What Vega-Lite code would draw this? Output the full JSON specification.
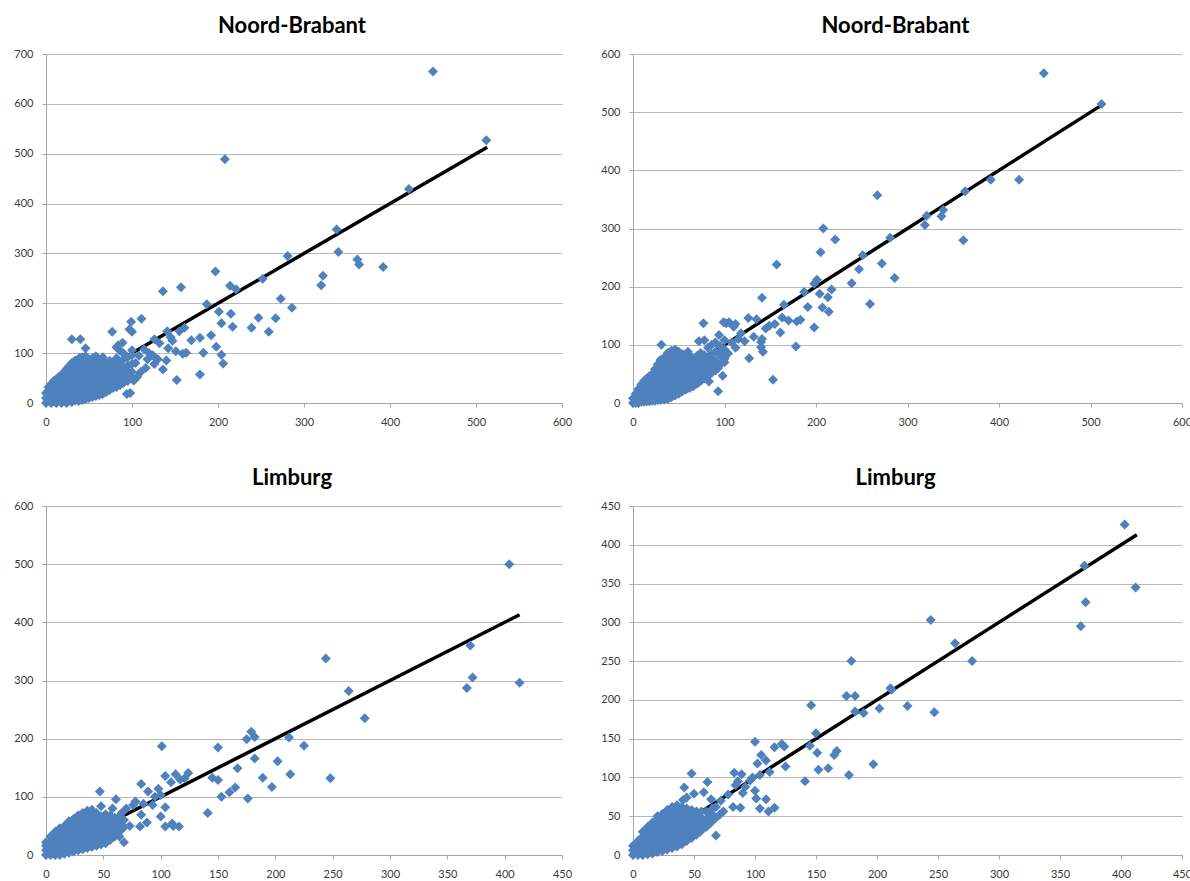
{
"$schema": "https://vega.github.io/schema/vega-lite/v6.json",
"background": "white",
"padding": {"left": 13, "top": 15, "right": 0, "bottom": 0},
"bounds": "flush",
"columns": 2,
"spacing": {"row": 103, "column": 71},
"datasets": {
"line_nb": [{"x":0,"y":0},{"x":513,"y":513}],
"line_li": [{"x":0,"y":0},{"x":413,"y":413}],
"tl": [
{"x":450,"y":665},{"x":512,"y":527},{"x":208,"y":489},{"x":422,"y":429},{"x":338,"y":348},{"x":340,"y":303},{"x":362,"y":288},{"x":364,"y":278},{"x":392,"y":273},{"x":281,"y":295},{"x":252,"y":249},{"x":322,"y":255},{"x":320,"y":236},{"x":273,"y":209},{"x":286,"y":191},{"x":197,"y":264},{"x":214,"y":235},{"x":221,"y":228},{"x":157,"y":232},{"x":136,"y":224},{"x":187,"y":198},{"x":201,"y":183},{"x":215,"y":179},{"x":204,"y":160},{"x":217,"y":153},{"x":247,"y":171},{"x":267,"y":170},{"x":239,"y":151},{"x":259,"y":143},{"x":192,"y":136},{"x":179,"y":131},{"x":169,"y":126},{"x":198,"y":113},{"x":204,"y":97},{"x":206,"y":79},{"x":183,"y":101},{"x":163,"y":101},{"x":159,"y":99},{"x":152,"y":46},{"x":179,"y":57},{"x":151,"y":104},{"x":140,"y":85},{"x":136,"y":67},{"x":161,"y":151},{"x":155,"y":144},{"x":141,"y":144},{"x":145,"y":132},{"x":111,"y":169},{"x":99,"y":163},{"x":97,"y":148},{"x":100,"y":143},{"x":77,"y":143},{"x":30,"y":128},{"x":40,"y":128},{"x":46,"y":110},{"x":39,"y":91},{"x":89,"y":121},{"x":84,"y":116},{"x":126,"y":128},{"x":102,"y":45},{"x":94,"y":18},{"x":98,"y":20},{"x":114,"y":108},{"x":130,"y":88},{"x":126,"y":78},{"x":120,"y":100},{"x":132,"y":120},{"x":147,"y":125},{"x":142,"y":110},{"x":108,"y":95},{"x":104,"y":80},{"x":116,"y":70},{"x":90,"y":60},{"x":95,"y":75},{"x":82,"y":112},{"x":86,"y":105},{"x":110,"y":62},{"x":106,"y":52},{"x":118,"y":88},{"x":124,"y":96},
{"x":0,"y":0},{"x":0,"y":10},{"x":0,"y":20},
{"x":3,"y":5},{"x":3,"y":15},{"x":3,"y":25},{"x":3,"y":32},
{"x":6,"y":0},{"x":6,"y":10},{"x":6,"y":20},{"x":6,"y":30},{"x":6,"y":38},
{"x":9,"y":5},{"x":9,"y":15},{"x":9,"y":25},{"x":9,"y":35},{"x":9,"y":44},
{"x":12,"y":0},{"x":12,"y":10},{"x":12,"y":20},{"x":12,"y":30},{"x":12,"y":40},{"x":12,"y":48},
{"x":15,"y":5},{"x":15,"y":15},{"x":15,"y":25},{"x":15,"y":35},{"x":15,"y":45},{"x":15,"y":52},
{"x":18,"y":0},{"x":18,"y":10},{"x":18,"y":20},{"x":18,"y":30},{"x":18,"y":40},{"x":18,"y":50},{"x":18,"y":56},
{"x":21,"y":5},{"x":21,"y":15},{"x":21,"y":25},{"x":21,"y":35},{"x":21,"y":45},{"x":21,"y":55},{"x":21,"y":62},
{"x":24,"y":0},{"x":24,"y":10},{"x":24,"y":20},{"x":24,"y":30},{"x":24,"y":40},{"x":24,"y":50},{"x":24,"y":60},{"x":24,"y":68},
{"x":27,"y":5},{"x":27,"y":15},{"x":27,"y":25},{"x":27,"y":35},{"x":27,"y":45},{"x":27,"y":55},{"x":27,"y":65},{"x":27,"y":74},
{"x":30,"y":2},{"x":30,"y":10},{"x":30,"y":20},{"x":30,"y":30},{"x":30,"y":40},{"x":30,"y":50},{"x":30,"y":60},{"x":30,"y":70},{"x":30,"y":80},
{"x":34,"y":5},{"x":34,"y":15},{"x":34,"y":25},{"x":34,"y":35},{"x":34,"y":45},{"x":34,"y":55},{"x":34,"y":65},{"x":34,"y":75},{"x":34,"y":85},
{"x":38,"y":4},{"x":38,"y":12},{"x":38,"y":22},{"x":38,"y":32},{"x":38,"y":42},{"x":38,"y":52},{"x":38,"y":62},{"x":38,"y":72},{"x":38,"y":82},{"x":38,"y":88},
{"x":42,"y":6},{"x":42,"y":14},{"x":42,"y":24},{"x":42,"y":34},{"x":42,"y":44},{"x":42,"y":54},{"x":42,"y":64},{"x":42,"y":74},{"x":42,"y":84},{"x":42,"y":92},
{"x":46,"y":8},{"x":46,"y":16},{"x":46,"y":26},{"x":46,"y":36},{"x":46,"y":46},{"x":46,"y":56},{"x":46,"y":66},{"x":46,"y":76},{"x":46,"y":86},{"x":46,"y":94},
{"x":50,"y":10},{"x":50,"y":18},{"x":50,"y":28},{"x":50,"y":38},{"x":50,"y":48},{"x":50,"y":58},{"x":50,"y":68},{"x":50,"y":78},{"x":50,"y":88},
{"x":54,"y":12},{"x":54,"y":20},{"x":54,"y":30},{"x":54,"y":40},{"x":54,"y":50},{"x":54,"y":60},{"x":54,"y":70},{"x":54,"y":80},{"x":54,"y":90},
{"x":58,"y":14},{"x":58,"y":22},{"x":58,"y":32},{"x":58,"y":42},{"x":58,"y":52},{"x":58,"y":62},{"x":58,"y":72},{"x":58,"y":82},{"x":58,"y":94},
{"x":62,"y":16},{"x":62,"y":24},{"x":62,"y":34},{"x":62,"y":44},{"x":62,"y":54},{"x":62,"y":64},{"x":62,"y":74},{"x":62,"y":84},
{"x":66,"y":18},{"x":66,"y":26},{"x":66,"y":36},{"x":66,"y":46},{"x":66,"y":56},{"x":66,"y":66},{"x":66,"y":76},{"x":66,"y":92},
{"x":70,"y":22},{"x":70,"y":30},{"x":70,"y":40},{"x":70,"y":50},{"x":70,"y":60},{"x":70,"y":70},{"x":70,"y":80},
{"x":74,"y":26},{"x":74,"y":34},{"x":74,"y":44},{"x":74,"y":54},{"x":74,"y":64},{"x":74,"y":74},{"x":74,"y":84},
{"x":78,"y":30},{"x":78,"y":38},{"x":78,"y":48},{"x":78,"y":58},{"x":78,"y":68},{"x":78,"y":78},
{"x":82,"y":32},{"x":82,"y":42},{"x":82,"y":52},{"x":82,"y":62},{"x":82,"y":72},{"x":82,"y":90},
{"x":86,"y":36},{"x":86,"y":46},{"x":86,"y":56},{"x":86,"y":66},{"x":86,"y":80},
{"x":90,"y":40},{"x":90,"y":50},{"x":90,"y":70},{"x":90,"y":88},{"x":90,"y":100},
{"x":95,"y":44},{"x":95,"y":56},{"x":95,"y":64},{"x":95,"y":92},
{"x":100,"y":50},{"x":100,"y":62},{"x":100,"y":78},{"x":100,"y":96},{"x":100,"y":106}
],
"tr": [
{"x":449,"y":567},{"x":512,"y":514},{"x":422,"y":384},{"x":391,"y":384},{"x":363,"y":364},{"x":361,"y":280},{"x":339,"y":332},{"x":337,"y":321},{"x":321,"y":322},{"x":319,"y":306},{"x":281,"y":284},{"x":267,"y":357},{"x":251,"y":254},{"x":247,"y":230},{"x":272,"y":240},{"x":286,"y":215},{"x":239,"y":206},{"x":259,"y":170},{"x":208,"y":300},{"x":221,"y":281},{"x":205,"y":259},{"x":201,"y":212},{"x":198,"y":205},{"x":204,"y":188},{"x":217,"y":195},{"x":213,"y":182},{"x":207,"y":164},{"x":214,"y":157},{"x":187,"y":191},{"x":191,"y":165},{"x":198,"y":130},{"x":157,"y":238},{"x":141,"y":181},{"x":165,"y":169},{"x":163,"y":147},{"x":170,"y":142},{"x":179,"y":140},{"x":183,"y":143},{"x":161,"y":121},{"x":178,"y":97},{"x":153,"y":40},{"x":126,"y":146},{"x":135,"y":144},{"x":77,"y":137},{"x":99,"y":139},{"x":105,"y":139},{"x":112,"y":136},{"x":31,"y":100},{"x":127,"y":77},{"x":98,"y":47},{"x":93,"y":20},{"x":83,"y":37},{"x":140,"y":96},{"x":141,"y":110},{"x":149,"y":133},{"x":155,"y":136},{"x":145,"y":128},{"x":94,"y":117},{"x":102,"y":137},{"x":110,"y":131},{"x":132,"y":114},{"x":140,"y":105},{"x":142,"y":88},{"x":93,"y":60},{"x":72,"y":106},{"x":78,"y":108},{"x":60,"y":88},{"x":49,"y":86},{"x":41,"y":88},{"x":118,"y":120},{"x":112,"y":95},{"x":104,"y":85},{"x":96,"y":80},{"x":88,"y":70},{"x":100,"y":70},{"x":86,"y":62},{"x":82,"y":52},{"x":108,"y":104},{"x":115,"y":110},{"x":122,"y":106},
{"x":0,"y":0},{"x":0,"y":8},
{"x":3,"y":0},{"x":3,"y":8},{"x":3,"y":16},
{"x":6,"y":0},{"x":6,"y":8},{"x":6,"y":16},{"x":6,"y":24},
{"x":9,"y":2},{"x":9,"y":10},{"x":9,"y":18},{"x":9,"y":26},{"x":9,"y":32},
{"x":12,"y":2},{"x":12,"y":10},{"x":12,"y":18},{"x":12,"y":26},{"x":12,"y":34},{"x":12,"y":38},
{"x":15,"y":3},{"x":15,"y":11},{"x":15,"y":19},{"x":15,"y":27},{"x":15,"y":35},{"x":15,"y":42},
{"x":18,"y":3},{"x":18,"y":11},{"x":18,"y":19},{"x":18,"y":27},{"x":18,"y":35},{"x":18,"y":43},{"x":18,"y":46},
{"x":21,"y":4},{"x":21,"y":12},{"x":21,"y":20},{"x":21,"y":28},{"x":21,"y":36},{"x":21,"y":44},{"x":21,"y":50},
{"x":24,"y":4},{"x":24,"y":12},{"x":24,"y":20},{"x":24,"y":28},{"x":24,"y":36},{"x":24,"y":44},{"x":24,"y":52},{"x":24,"y":58},
{"x":27,"y":5},{"x":27,"y":13},{"x":27,"y":21},{"x":27,"y":29},{"x":27,"y":37},{"x":27,"y":45},{"x":27,"y":53},{"x":27,"y":61},{"x":27,"y":66},
{"x":30,"y":5},{"x":30,"y":13},{"x":30,"y":21},{"x":30,"y":29},{"x":30,"y":37},{"x":30,"y":45},{"x":30,"y":53},{"x":30,"y":61},{"x":30,"y":69},{"x":30,"y":74},
{"x":34,"y":6},{"x":34,"y":14},{"x":34,"y":22},{"x":34,"y":30},{"x":34,"y":38},{"x":34,"y":46},{"x":34,"y":54},{"x":34,"y":62},{"x":34,"y":70},{"x":34,"y":78},
{"x":38,"y":7},{"x":38,"y":15},{"x":38,"y":23},{"x":38,"y":31},{"x":38,"y":39},{"x":38,"y":47},{"x":38,"y":55},{"x":38,"y":63},{"x":38,"y":71},{"x":38,"y":79},{"x":38,"y":86},
{"x":42,"y":10},{"x":42,"y":18},{"x":42,"y":26},{"x":42,"y":34},{"x":42,"y":42},{"x":42,"y":50},{"x":42,"y":58},{"x":42,"y":66},{"x":42,"y":74},{"x":42,"y":82},{"x":42,"y":90},
{"x":46,"y":13},{"x":46,"y":21},{"x":46,"y":29},{"x":46,"y":37},{"x":46,"y":45},{"x":46,"y":53},{"x":46,"y":61},{"x":46,"y":69},{"x":46,"y":77},{"x":46,"y":85},{"x":46,"y":92},
{"x":50,"y":16},{"x":50,"y":24},{"x":50,"y":32},{"x":50,"y":40},{"x":50,"y":48},{"x":50,"y":56},{"x":50,"y":64},{"x":50,"y":72},{"x":50,"y":80},{"x":50,"y":88},
{"x":54,"y":20},{"x":54,"y":28},{"x":54,"y":36},{"x":54,"y":44},{"x":54,"y":52},{"x":54,"y":60},{"x":54,"y":68},{"x":54,"y":76},{"x":54,"y":84},
{"x":58,"y":23},{"x":58,"y":31},{"x":58,"y":39},{"x":58,"y":47},{"x":58,"y":55},{"x":58,"y":63},{"x":58,"y":71},{"x":58,"y":79},
{"x":62,"y":26},{"x":62,"y":34},{"x":62,"y":42},{"x":62,"y":50},{"x":62,"y":58},{"x":62,"y":66},{"x":62,"y":74},{"x":62,"y":82},
{"x":66,"y":29},{"x":66,"y":37},{"x":66,"y":45},{"x":66,"y":53},{"x":66,"y":61},{"x":66,"y":69},{"x":66,"y":77},
{"x":70,"y":33},{"x":70,"y":41},{"x":70,"y":49},{"x":70,"y":57},{"x":70,"y":65},{"x":70,"y":73},{"x":70,"y":81},
{"x":74,"y":38},{"x":74,"y":46},{"x":74,"y":54},{"x":74,"y":62},{"x":74,"y":70},{"x":74,"y":78},{"x":74,"y":86},
{"x":78,"y":42},{"x":78,"y":50},{"x":78,"y":58},{"x":78,"y":66},{"x":78,"y":74},{"x":78,"y":82},
{"x":82,"y":47},{"x":82,"y":55},{"x":82,"y":63},{"x":82,"y":71},{"x":82,"y":79},{"x":82,"y":95},
{"x":86,"y":52},{"x":86,"y":68},{"x":86,"y":76},{"x":86,"y":84},{"x":86,"y":100},
{"x":90,"y":56},{"x":90,"y":72},{"x":90,"y":88},{"x":90,"y":104},
{"x":95,"y":66},{"x":95,"y":86},{"x":95,"y":98},
{"x":100,"y":76},{"x":100,"y":92},{"x":100,"y":108}
],
"bl": [
{"x":404,"y":500},{"x":370,"y":360},{"x":372,"y":305},{"x":367,"y":287},{"x":413,"y":296},{"x":244,"y":338},{"x":264,"y":282},{"x":278,"y":235},{"x":179,"y":212},{"x":175,"y":199},{"x":182,"y":203},{"x":212,"y":202},{"x":225,"y":188},{"x":202,"y":161},{"x":182,"y":166},{"x":167,"y":149},{"x":189,"y":133},{"x":213,"y":139},{"x":248,"y":132},{"x":197,"y":117},{"x":176,"y":97},{"x":165,"y":116},{"x":160,"y":108},{"x":153,"y":100},{"x":150,"y":185},{"x":101,"y":187},{"x":145,"y":133},{"x":150,"y":129},{"x":141,"y":72},{"x":124,"y":141},{"x":121,"y":132},{"x":113,"y":139},{"x":104,"y":136},{"x":109,"y":125},{"x":83,"y":122},{"x":98,"y":114},{"x":89,"y":109},{"x":47,"y":109},{"x":61,"y":96},{"x":104,"y":82},{"x":100,"y":66},{"x":104,"y":49},{"x":110,"y":54},{"x":116,"y":49},{"x":111,"y":50},{"x":83,"y":69},{"x":82,"y":49},{"x":88,"y":56},{"x":68,"y":22},{"x":73,"y":50},{"x":76,"y":86},{"x":78,"y":92},{"x":93,"y":86},{"x":117,"y":130},{"x":95,"y":100},{"x":100,"y":103},{"x":85,"y":88},{"x":70,"y":80},{"x":66,"y":72},{"x":58,"y":80},{"x":62,"y":58},{"x":66,"y":44},{"x":56,"y":52},{"x":64,"y":32},
{"x":0,"y":0},{"x":0,"y":8},{"x":0,"y":16},{"x":0,"y":22},
{"x":4,"y":0},{"x":4,"y":8},{"x":4,"y":16},{"x":4,"y":24},{"x":4,"y":32},
{"x":8,"y":0},{"x":8,"y":8},{"x":8,"y":16},{"x":8,"y":24},{"x":8,"y":32},{"x":8,"y":40},
{"x":12,"y":0},{"x":12,"y":8},{"x":12,"y":16},{"x":12,"y":24},{"x":12,"y":32},{"x":12,"y":40},{"x":12,"y":46},
{"x":16,"y":2},{"x":16,"y":10},{"x":16,"y":18},{"x":16,"y":26},{"x":16,"y":34},{"x":16,"y":42},{"x":16,"y":50},
{"x":20,"y":4},{"x":20,"y":12},{"x":20,"y":20},{"x":20,"y":28},{"x":20,"y":36},{"x":20,"y":44},{"x":20,"y":52},{"x":20,"y":58},
{"x":24,"y":6},{"x":24,"y":14},{"x":24,"y":22},{"x":24,"y":30},{"x":24,"y":38},{"x":24,"y":46},{"x":24,"y":54},{"x":24,"y":62},
{"x":28,"y":8},{"x":28,"y":16},{"x":28,"y":24},{"x":28,"y":32},{"x":28,"y":40},{"x":28,"y":46},{"x":28,"y":54},{"x":28,"y":62},{"x":28,"y":68},
{"x":32,"y":10},{"x":32,"y":18},{"x":32,"y":26},{"x":32,"y":34},{"x":32,"y":42},{"x":32,"y":50},{"x":32,"y":58},{"x":32,"y":66},{"x":32,"y":72},
{"x":36,"y":12},{"x":36,"y":20},{"x":36,"y":28},{"x":36,"y":36},{"x":36,"y":44},{"x":36,"y":52},{"x":36,"y":60},{"x":36,"y":68},{"x":36,"y":76},
{"x":40,"y":14},{"x":40,"y":22},{"x":40,"y":30},{"x":40,"y":38},{"x":40,"y":46},{"x":40,"y":54},{"x":40,"y":62},{"x":40,"y":70},{"x":40,"y":78},
{"x":44,"y":16},{"x":44,"y":24},{"x":44,"y":32},{"x":44,"y":40},{"x":44,"y":48},{"x":44,"y":56},{"x":44,"y":64},{"x":44,"y":72},
{"x":48,"y":18},{"x":48,"y":26},{"x":48,"y":34},{"x":48,"y":42},{"x":48,"y":50},{"x":48,"y":58},{"x":48,"y":66},{"x":48,"y":84},
{"x":52,"y":20},{"x":52,"y":28},{"x":52,"y":36},{"x":52,"y":44},{"x":52,"y":52},{"x":52,"y":60},{"x":52,"y":70},
{"x":56,"y":26},{"x":56,"y":34},{"x":56,"y":42},{"x":56,"y":60},{"x":56,"y":68},
{"x":60,"y":32},{"x":60,"y":40},{"x":60,"y":50},{"x":60,"y":64},
{"x":64,"y":44},{"x":64,"y":56},{"x":64,"y":66},
{"x":68,"y":48},{"x":68,"y":60}
],
"br": [
{"x":403,"y":426},{"x":370,"y":373},{"x":412,"y":345},{"x":371,"y":326},{"x":367,"y":295},{"x":244,"y":303},{"x":264,"y":273},{"x":278,"y":250},{"x":179,"y":250},{"x":175,"y":205},{"x":182,"y":205},{"x":211,"y":215},{"x":212,"y":213},{"x":146,"y":193},{"x":202,"y":189},{"x":225,"y":192},{"x":247,"y":184},{"x":182,"y":185},{"x":189,"y":183},{"x":150,"y":157},{"x":145,"y":141},{"x":151,"y":132},{"x":167,"y":134},{"x":165,"y":129},{"x":152,"y":110},{"x":160,"y":112},{"x":177,"y":103},{"x":197,"y":117},{"x":141,"y":95},{"x":100,"y":146},{"x":116,"y":139},{"x":122,"y":143},{"x":124,"y":140},{"x":105,"y":129},{"x":109,"y":122},{"x":102,"y":118},{"x":112,"y":107},{"x":125,"y":114},{"x":104,"y":103},{"x":83,"y":106},{"x":89,"y":104},{"x":100,"y":83},{"x":101,"y":73},{"x":109,"y":72},{"x":104,"y":60},{"x":111,"y":56},{"x":116,"y":61},{"x":82,"y":62},{"x":88,"y":61},{"x":84,"y":90},{"x":92,"y":88},{"x":48,"y":105},{"x":61,"y":94},{"x":42,"y":87},{"x":50,"y":79},{"x":41,"y":71},{"x":58,"y":81},{"x":68,"y":25},{"x":71,"y":52},{"x":55,"y":30},{"x":96,"y":96},{"x":98,"y":100},{"x":78,"y":78},{"x":72,"y":70},{"x":65,"y":60},{"x":62,"y":48},{"x":74,"y":56},{"x":90,"y":80},{"x":86,"y":95},{"x":64,"y":72},
{"x":0,"y":0},{"x":0,"y":6},{"x":0,"y":12},
{"x":4,"y":0},{"x":4,"y":6},{"x":4,"y":12},{"x":4,"y":18},
{"x":8,"y":0},{"x":8,"y":6},{"x":8,"y":12},{"x":8,"y":18},{"x":8,"y":24},{"x":8,"y":30},
{"x":12,"y":1},{"x":12,"y":7},{"x":12,"y":13},{"x":12,"y":19},{"x":12,"y":25},{"x":12,"y":31},{"x":12,"y":36},
{"x":16,"y":2},{"x":16,"y":8},{"x":16,"y":14},{"x":16,"y":20},{"x":16,"y":26},{"x":16,"y":32},{"x":16,"y":38},{"x":16,"y":42},
{"x":20,"y":4},{"x":20,"y":10},{"x":20,"y":16},{"x":20,"y":22},{"x":20,"y":28},{"x":20,"y":34},{"x":20,"y":40},{"x":20,"y":46},{"x":20,"y":50},
{"x":24,"y":5},{"x":24,"y":11},{"x":24,"y":17},{"x":24,"y":23},{"x":24,"y":29},{"x":24,"y":35},{"x":24,"y":41},{"x":24,"y":47},{"x":24,"y":53},
{"x":28,"y":7},{"x":28,"y":13},{"x":28,"y":19},{"x":28,"y":25},{"x":28,"y":31},{"x":28,"y":37},{"x":28,"y":43},{"x":28,"y":49},{"x":28,"y":55},{"x":28,"y":58},
{"x":32,"y":9},{"x":32,"y":15},{"x":32,"y":21},{"x":32,"y":27},{"x":32,"y":33},{"x":32,"y":39},{"x":32,"y":45},{"x":32,"y":51},{"x":32,"y":57},{"x":32,"y":62},
{"x":36,"y":11},{"x":36,"y":17},{"x":36,"y":23},{"x":36,"y":29},{"x":36,"y":35},{"x":36,"y":41},{"x":36,"y":47},{"x":36,"y":53},{"x":36,"y":59},{"x":36,"y":64},
{"x":40,"y":14},{"x":40,"y":20},{"x":40,"y":26},{"x":40,"y":32},{"x":40,"y":38},{"x":40,"y":44},{"x":40,"y":50},{"x":40,"y":56},{"x":40,"y":62},
{"x":44,"y":18},{"x":44,"y":24},{"x":44,"y":30},{"x":44,"y":36},{"x":44,"y":42},{"x":44,"y":48},{"x":44,"y":54},{"x":44,"y":60},{"x":44,"y":74},
{"x":48,"y":22},{"x":48,"y":28},{"x":48,"y":34},{"x":48,"y":40},{"x":48,"y":46},{"x":48,"y":52},{"x":48,"y":58},
{"x":52,"y":26},{"x":52,"y":32},{"x":52,"y":38},{"x":52,"y":44},{"x":52,"y":50},{"x":52,"y":56},
{"x":56,"y":32},{"x":56,"y":40},{"x":56,"y":48},{"x":56,"y":56},
{"x":60,"y":36},{"x":60,"y":46},{"x":60,"y":56},
{"x":64,"y":42},{"x":64,"y":54},
{"x":68,"y":48},{"x":68,"y":62}
]
},
"concat": [
{"width": 516, "height": 349, "title": "Noord-Brabant",
 "encoding": {"x": {"field": "x", "type": "quantitative", "scale": {"domain": [0, 600], "nice": false}, "axis": {"values": [0,100,200,300,400,500,600], "title": null}},
              "y": {"field": "y", "type": "quantitative", "scale": {"domain": [0, 700], "nice": false}, "axis": {"values": [0,100,200,300,400,500,600,700], "title": null}}},
 "layer": [
  {"data": {"name": "line_nb"}, "mark": {"type": "line", "color": "#000000", "strokeWidth": 3.5}},
  {"data": {"name": "tl"}, "mark": {"type": "point", "shape": "diamond", "filled": true, "size": 100, "color": "#4F81BD", "opacity": 1}}
 ]},
{"width": 549, "height": 349, "title": "Noord-Brabant",
 "encoding": {"x": {"field": "x", "type": "quantitative", "scale": {"domain": [0, 600], "nice": false}, "axis": {"values": [0,100,200,300,400,500,600], "title": null}},
              "y": {"field": "y", "type": "quantitative", "scale": {"domain": [0, 600], "nice": false}, "axis": {"values": [0,100,200,300,400,500,600], "title": null}}},
 "layer": [
  {"data": {"name": "line_nb"}, "mark": {"type": "line", "color": "#000000", "strokeWidth": 3.5}},
  {"data": {"name": "tr"}, "mark": {"type": "point", "shape": "diamond", "filled": true, "size": 100, "color": "#4F81BD", "opacity": 1}}
 ]},
{"width": 516, "height": 349, "title": "Limburg",
 "encoding": {"x": {"field": "x", "type": "quantitative", "scale": {"domain": [0, 450], "nice": false}, "axis": {"values": [0,50,100,150,200,250,300,350,400,450], "title": null}},
              "y": {"field": "y", "type": "quantitative", "scale": {"domain": [0, 600], "nice": false}, "axis": {"values": [0,100,200,300,400,500,600], "title": null}}},
 "layer": [
  {"data": {"name": "line_li"}, "mark": {"type": "line", "color": "#000000", "strokeWidth": 3.5}},
  {"data": {"name": "bl"}, "mark": {"type": "point", "shape": "diamond", "filled": true, "size": 100, "color": "#4F81BD", "opacity": 1}}
 ]},
{"width": 549, "height": 349, "title": "Limburg",
 "encoding": {"x": {"field": "x", "type": "quantitative", "scale": {"domain": [0, 450], "nice": false}, "axis": {"values": [0,50,100,150,200,250,300,350,400,450], "title": null}},
              "y": {"field": "y", "type": "quantitative", "scale": {"domain": [0, 450], "nice": false}, "axis": {"values": [0,50,100,150,200,250,300,350,400,450], "title": null}}},
 "layer": [
  {"data": {"name": "line_li"}, "mark": {"type": "line", "color": "#000000", "strokeWidth": 3.5}},
  {"data": {"name": "br"}, "mark": {"type": "point", "shape": "diamond", "filled": true, "size": 100, "color": "#4F81BD", "opacity": 1}}
 ]}
],
"config": {
 "view": {"stroke": null},
 "font": "Lato",
 "title": {"font": "Lato", "fontSize": 22, "fontWeight": "bold", "color": "#000000", "anchor": "middle", "dx": -12, "offset": 10, "frame": "group"},
 "axis": {"labelFont": "Lato", "labelFontSize": 11, "labelColor": "#3a3a3a", "domainColor": "#a6a6a6", "tickColor": "#a6a6a6", "tickSize": 4, "labelFlush": false, "labelOverlap": false},
 "axisX": {"grid": false, "labelPadding": 9},
 "axisY": {"grid": true, "gridColor": "#b8b8b8", "labelPadding": 9}
}
}
